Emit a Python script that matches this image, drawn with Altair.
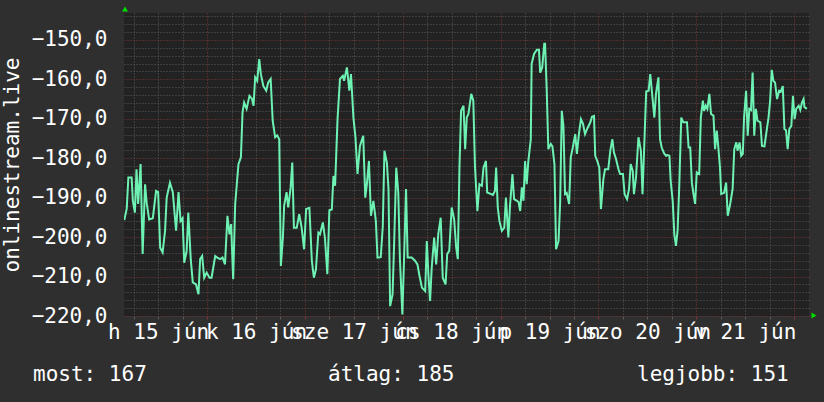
import json
import altair as alt
import pandas as pd

# Hours since 15 June 00:00 and the value read at that time
hours = [3.7, 4.3, 4.7, 5.5, 5.8, 6.3, 6.7, 7.1, 7.7, 8.2, 8.8, 9.2, 9.8, 10.7, 11.5, 12.0, 12.5, 13.1, 13.7, 14.1,
         14.9, 15.6, 16.4, 17.0, 17.5, 18.0, 18.4, 19.0, 19.4, 20.0, 20.5, 21.3, 21.9, 22.3, 22.8, 23.3, 23.9, 24.6, 25.1, 26.0,
         26.5, 27.2, 27.8, 28.4, 29.0, 29.5, 29.9, 30.4, 30.9, 31.7, 32.3, 32.7, 33.1, 33.7, 34.4, 35.0, 35.4, 35.8, 36.3, 36.8,
         37.2, 37.8, 38.5, 39.0, 39.6, 40.1, 40.7, 41.2, 41.7, 42.1, 42.6, 42.9, 43.5, 43.9, 44.5, 44.9, 45.3, 46.0, 46.6, 47.2,
         47.8, 48.3, 49.1, 49.7, 50.2, 50.7, 51.3, 51.7, 52.4, 52.9, 53.5, 54.0, 54.6, 55.0, 55.4, 56.0, 56.6, 57.3, 57.6, 58.3,
         58.9, 59.3, 59.9, 60.4, 60.9,
         61.5, 62.3, 62.8, 63.2, 63.7, 64.2, 64.8, 65.4, 65.8, 66.6, 67.1, 67.5, 68.1, 68.5, 68.9, 69.5, 69.9, 70.4, 70.9, 71.3,
         71.9, 72.3, 72.8, 73.2, 74.2, 75.0, 75.6, 76.1, 76.7, 77.5, 77.9, 78.3, 78.7, 79.1, 79.7, 80.2, 80.7, 81.3, 81.8, 82.5,
         82.9, 83.4, 84.0, 84.6, 85.1, 85.5, 85.9, 86.3, 86.9, 87.3, 87.7, 88.1, 88.8, 89.3, 89.7, 90.3, 90.8, 91.4, 91.8, 92.4,
         92.7, 93.4, 94.1, 94.6, 94.9, 95.3, 95.7, 96.3, 96.9, 97.3, 97.9, 98.3, 98.9, 99.3, 100.0, 100.4, 100.8, 101.2, 101.6, 102.0,
         102.4, 102.8, 103.4, 103.6, 104.2, 104.9, 105.4, 105.7, 106.2, 106.7, 106.9, 107.3, 107.7, 108.3, 108.7, 109.2, 109.6, 110.2, 110.6, 111.0,
         111.4, 111.8, 112.2, 112.8, 113.2, 113.7, 114.3, 114.7, 115.2,
         115.7, 116.2, 116.7, 117.3, 118.0, 118.4, 118.9, 119.2, 119.7, 120.2, 120.6, 121.2, 121.6, 122.4, 122.9, 123.4, 123.8, 124.3, 124.9, 125.3,
         126.0, 126.4, 127.0, 127.5, 127.9, 128.4, 128.7, 129.2, 129.8, 130.4, 130.8, 131.3, 131.7, 132.3, 132.7, 133.1, 133.7, 134.1, 134.7, 135.1,
         135.5, 136.1, 136.6, 136.9, 137.4, 137.7, 138.2, 138.6, 139.0, 139.4, 139.8, 140.3, 140.8, 141.7, 142.1, 142.5, 142.9, 143.3, 143.7, 144.1,
         144.7, 145.1, 145.6, 145.9, 146.3, 146.7, 147.2, 147.6, 148.2, 148.6, 149.0, 149.4, 149.8, 150.1, 150.8, 151.3, 151.7, 152.3, 152.9, 153.3,
         153.8, 154.1, 154.6, 155.0, 155.4, 155.7, 156.2, 156.6, 157.0, 157.4, 157.8, 158.2, 158.6, 159.0, 159.7, 160.1, 160.7, 161.3, 161.7, 162.1,
         162.5, 162.9, 163.3, 163.8, 164.3, 164.7, 165.2, 165.6, 166.0, 166.4, 166.8, 167.3, 167.7, 168.1, 168.5, 169.1, 169.5, 169.9, 170.3, 170.5,
         171.1]

values = [-195.7, -192.8, -184.9, -184.9, -190.8, -193.8, -182.8, -191.6, -181.5, -204.3, -186.6, -191.4, -195.5, -195.2, -188.3, -188.6, -202.7, -203.9, -198.4, -190.0,
          -186.2, -188.6, -198.4, -188.6, -195.9, -195.2, -206.5, -203.5, -193.8, -205.6, -211.5, -212.0, -214.5, -205.6, -204.8, -210.3, -209.0, -210.3, -210.3, -204.8,
          -205.2, -205.6, -205.2, -206.9, -194.6, -199.3, -196.7, -210.7, -191.6, -181.5, -179.8, -168.4, -165.9, -167.5, -164.2, -164.9, -166.7, -159.5, -160.4, -154.9,
          -158.7, -161.7, -162.9, -160.8, -159.9, -170.5, -174.7, -174.2, -175.2, -207.3, -200.1, -192.1, -188.6, -192.5, -187.4, -181.1, -197.6, -197.6, -194.2, -197.6,
          -203.1, -192.9, -192.6, -206.0, -210.3, -208.2, -198.9, -199.3, -196.3, -200.1, -209.4, -193.2, -193.0, -184.5, -187.0, -170.1, -159.9, -159.1, -160.4, -157.0,
          -162.9, -158.7, -169.7, -174.7, -184.0,
          -176.9, -174.3, -190.0, -186.6, -180.7, -194.6, -190.8, -195.9, -205.2, -205.1, -197.2, -178.1, -181.1, -187.8, -217.5, -214.5, -201.0, -182.4, -188.7, -205.6,
          -219.6, -206.0, -187.8, -205.2, -205.2, -206.0, -206.9, -209.8, -212.8, -213.7, -201.0, -209.8, -216.2, -207.7, -200.1, -206.9, -199.3, -195.1, -210.3, -212.0,
          -204.3, -203.5, -192.5, -195.5, -202.7, -205.6, -182.4, -168.0, -166.7, -177.7, -169.7, -168.8, -163.7, -165.4, -181.9, -193.4, -186.6, -187.0, -182.4, -180.7,
          -188.7, -189.0, -189.3, -188.3, -182.4, -192.5, -195.9, -198.4, -197.6, -190.0, -200.1, -192.1, -184.0, -190.4, -190.8, -191.1, -193.4, -187.4, -190.8, -180.7,
          -186.6, -180.7, -175.2, -156.1, -153.6, -152.5, -152.5, -158.3, -157.0, -151.0, -151.0, -162.5, -177.7, -176.4, -177.0, -181.5, -203.1, -201.0, -191.2, -168.0,
          -171.8, -189.1, -188.8, -191.6, -179.8, -177.3, -173.9, -178.9, -173.9,
          -170.1, -171.3, -173.9, -172.4, -170.9, -169.5, -169.3, -179.4, -180.7, -182.4, -192.9, -185.3, -182.8, -182.8, -178.1, -175.2, -178.6, -180.2, -182.8, -184.0,
          -184.0, -189.1, -190.4, -187.8, -181.5, -183.2, -189.1, -184.9, -174.7, -178.1, -189.1, -174.7, -163.1, -162.9, -158.7, -163.1, -169.7, -163.7, -159.5, -175.2,
          -177.3, -178.8, -179.4, -179.2, -179.4, -185.7, -190.8, -199.3, -202.2, -198.4, -187.4, -169.7, -170.9, -170.9, -177.3, -177.3, -186.2, -189.1, -191.6, -183.6,
          -184.0, -169.7, -165.4, -168.0, -166.7, -167.5, -163.7, -168.8, -169.2, -177.7, -173.0, -177.3, -182.4, -189.1, -188.8, -186.2, -194.6, -191.6, -187.8, -177.7,
          -176.0, -178.1, -176.0, -179.4, -178.9, -169.7, -162.9, -174.3, -167.5, -167.8, -158.3, -174.3, -167.5, -170.5, -170.9, -176.9, -177.0, -172.6, -169.7, -165.4,
          -157.6, -160.4, -160.8, -165.0, -162.9, -163.1, -161.7, -172.6, -172.9, -177.7, -172.6, -171.8, -164.2, -170.1, -167.5, -166.7, -167.8, -165.9, -165.0, -167.0,
          -167.5]

# Axis content
day_labels = ["h 15 jún", "k 16 jún", "sze 17 jún", "cs 18 jún", "p 19 jún", "szo 20 jún", "v 21 jún"]
x_ticks = list(range(6, 172, 6))          # every 6 hours, label at noon
y_ticks = list(range(-220, -143, 2))       # every 2 units, label every 10
y_title = "onlinestream.live"

# Summary line under the chart
summary_names = ["most", "átlag", "legjobb"]
summary_values = [167, 185, 151]

FONT = "DejaVu Sans Mono"
FS = 21
WHITE = "#ffffff"
LINE = "#6ef2b4"
MINOR = "#5a5a5a"
MAJOR = "#7e3636"

df = pd.DataFrame({"h": hours, "v": values})

x_domain = [3.63, 171.63]
y_domain = [-220, -143.2]

label_expr_x = ("datum.value % 24 == 12 ? " + json.dumps(day_labels, ensure_ascii=False)
                + "[floor(datum.value / 24)] : ''")
label_expr_y = "datum.value % 10 == 0 ? replace(format(datum.value, '.1f'), '.', ',') : ''"

x_axis = alt.Axis(
    values=x_ticks, labelExpr=label_expr_x, labelOverlap=False, labelBound=False, labelFlush=False,
    labelFont=FONT, labelFontSize=FS, labelColor=WHITE, labelPadding=2, labelAlign="center",
    ticks=True, tickSize=3,
    tickColor={"condition": {"test": "datum.value % 24 === 0", "value": MAJOR}, "value": MINOR},
    grid=True, gridDash=[1, 2], gridWidth=1,
    gridColor={"condition": {"test": "datum.value % 24 === 0", "value": MAJOR}, "value": MINOR},
    domain=False, title=None,
)
y_axis = alt.Axis(
    values=y_ticks, labelExpr=label_expr_y, labelOverlap=False, labelBound=False, labelFlush=False,
    labelFont=FONT, labelFontSize=FS, labelColor=WHITE, labelPadding=17, labelBaseline="middle",
    ticks=False, grid=True, gridDash=[1, 2], gridWidth=1,
    gridColor={"condition": {"test": "datum.value % 10 === 0", "value": MAJOR}, "value": MINOR},
    domain=False, title=y_title, titleFont=FONT, titleFontSize=FS, titleFontWeight="normal",
    titleColor=WHITE, titleX=-112, titleY=151.5, titleAngle=270, titleAlign="center",
    titleBaseline="middle",
)

line = alt.Chart(df).mark_line(color=LINE, strokeWidth=2, clip=True).encode(
    x=alt.X("h:Q", scale=alt.Scale(domain=x_domain, nice=False, zero=False), axis=x_axis),
    y=alt.Y("v:Q", scale=alt.Scale(domain=y_domain, nice=False, zero=False), axis=y_axis),
)

one = alt.Data(values=[{"k": 0}])
arrow_up = alt.Chart(one).mark_point(shape="triangle-up", filled=True, color="#00dd00", size=35, opacity=1).encode(
    x=alt.value(1), y=alt.value(-4))
arrow_right = alt.Chart(one).mark_point(shape="triangle-right", filled=True, color="#00dd00", size=35, opacity=1).encode(
    x=alt.value(690), y=alt.value(302.5))

summary_x = [-91, 204, 513]
texts = []
for name, val, xp in zip(summary_names, summary_values, summary_x):
    texts.append(
        alt.Chart(one).mark_text(font=FONT, fontSize=FS, color=WHITE, align="left", baseline="alphabetic",
                                 text=f"{name}: {val}").encode(x=alt.value(xp), y=alt.value(368))
    )

chart = alt.layer(line, arrow_up, arrow_right, *texts).properties(
    width=685, height=303,
    autosize=alt.AutoSizeParams(type="none"),
    padding={"left": 124, "top": 13, "right": 15, "bottom": 86},
    background="#2f2f2f",
).configure_view(fill="#222222", stroke=None)

chart.save("out.html", embed_options={"renderer": "svg", "actions": False})
